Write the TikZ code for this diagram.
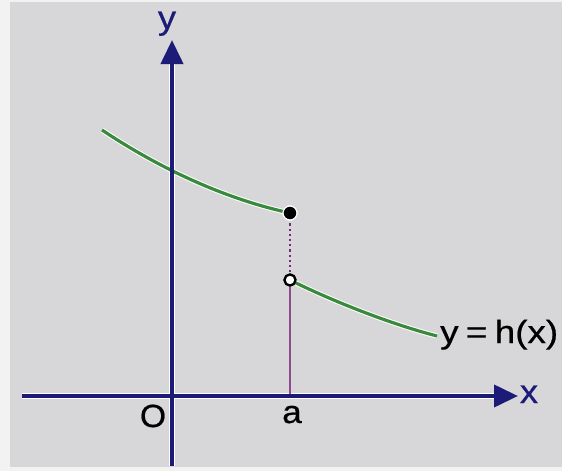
\documentclass[tikz,border=0pt]{standalone}
\usepackage{fontspec}
\setmainfont{Liberation Sans}
\newfontfamily\labelfont[FakeBold=0.6]{Liberation Sans}
\usetikzlibrary{arrows.meta}
\definecolor{bg}{HTML}{D7D7D9}
\definecolor{edge}{HTML}{F2F2F3}
\definecolor{axisblue}{HTML}{1C1C78}
\definecolor{curvegreen}{HTML}{3A8A3E}
\definecolor{guide}{HTML}{7A2A7A}
\begin{document}
\begin{tikzpicture}[x=1pt,y=-1pt,
  axisline/.style={draw=axisblue, line width=4pt, -{Triangle[length=24pt,width=22pt]}},
  halo/.style={draw=white, line width=6.5pt},
  curve/.style={draw=curvegreen, line width=3.2pt},
  axislabel/.style={text=axisblue, font=\labelfont\fontsize{33}{33}\selectfont, inner sep=0pt, anchor=base},
  ticklabel/.style={text=black, font=\labelfont\fontsize{32}{32}\selectfont, inner sep=0pt, anchor=base},
  filleddot/.style={circle, fill=black, draw=white, line width=1.2pt, minimum size=14pt, inner sep=0pt},
  opendot/.style={circle, fill=white, draw=black, line width=2.2pt, minimum size=11pt, inner sep=0pt}]
\fill[edge] (0,0) rectangle (562,471);
\fill[bg] (10,2) rectangle (562,467);
\useasboundingbox (0,0) rectangle (562,471);
% axis coordinates
\coordinate (xs) at (22,396);
\coordinate (xe) at (518,396);
\coordinate (xh) at (500,396);
\coordinate (ys) at (172,466);
\coordinate (ye) at (172,40);
\coordinate (yh) at (172,58);
\coordinate (foot) at (290,396);
% curve points
\coordinate (c1s) at (102,130);
\coordinate (c2e) at (437,336);
\node[filleddot] (fd) at (290,213) {};
\node[opendot] (od) at (290,280) {};
% halos
\draw[halo] (xs) -- (xh);
\draw[halo] (ys) -- (yh);
\draw[draw=white, line width=5.2pt] (c1s) .. controls (165,172) and (230,200) .. (fd.center);
\draw[draw=white, line width=5.2pt] (od.center) .. controls (330,300) and (390,324) .. (c2e);
% guide line
\draw[guide, line width=2.2pt, dash pattern=on 2.2pt off 3pt] (fd.center) -- (od.center);
\draw[guide!85!white, line width=1.1pt] (od.center) -- (foot);
% curves
\draw[curve] (c1s) .. controls (165,172) and (230,200) .. (fd.center);
\draw[curve] (od.center) .. controls (330,300) and (390,324) .. (c2e);
% axes
\draw[axisline] (xs) -- (xe);
\draw[axisline] (ys) -- (ye);
% dots on top
\node[filleddot] at (fd) {};
\node[opendot] at (od) {};
% labels
\node[axislabel] (ylab) at (167,29) {\scalebox{1.1}[1]{y}};
\node[axislabel] (xlab) at (529,403) {\scalebox{1.1}[1]{x}};
\node[ticklabel] (olab) at (153,427) {\scalebox{1.05}[1]{O}};
\node[ticklabel] (alab) at (292,423) {\scalebox{1.1}[1]{a}};
\node[ticklabel, anchor=base west] (flab) at (440,343) {\scalebox{1.15}[1]{y\kern0.2em=\kern0.2em h(x)}};
\end{tikzpicture}
\end{document}
